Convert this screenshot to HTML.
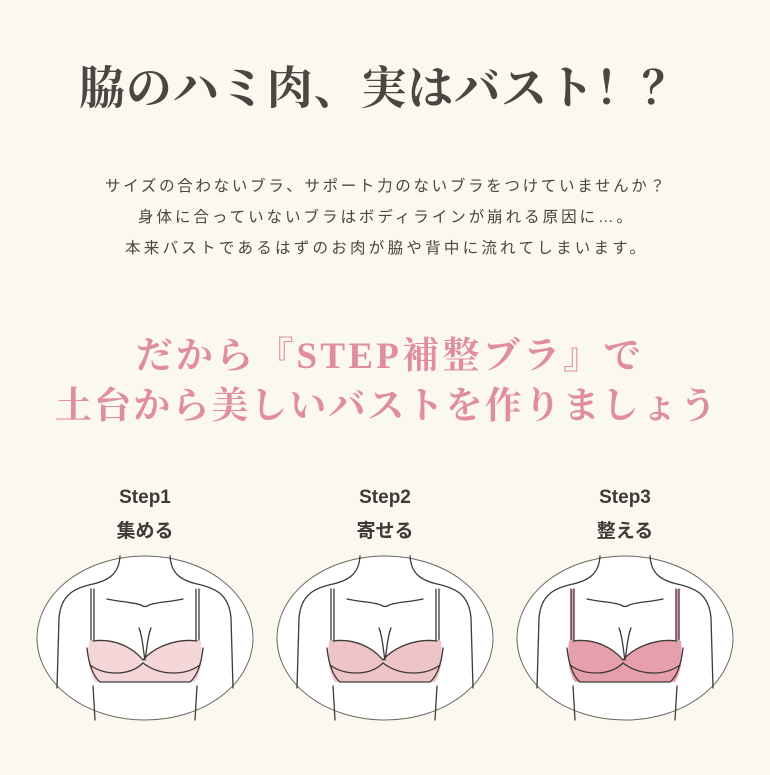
<!DOCTYPE html>
<html><head><meta charset="utf-8"><style>
body{margin:0;width:770px;height:770px;background:#fbf8f0;overflow:hidden}
</style></head><body>
<svg width="770" height="770" viewBox="0 0 770 770" xmlns="http://www.w3.org/2000/svg">
<rect width="770" height="770" fill="#fbf8f0"/>
<text x="385" y="104" text-anchor="middle" font-family="'Liberation Serif','Noto Serif CJK SC',serif" font-size="46" font-weight="bold" fill="#4a4642" letter-spacing="3" textLength="612">脇のハミ肉、実はバスト！？</text>
<g font-family="'Liberation Sans','Noto Sans CJK JP',sans-serif" font-size="15.5" fill="#4a4642" text-anchor="middle">
<text x="385" y="191" textLength="560">サイズの合わないブラ、サポート力のないブラをつけていませんか？</text>
<text x="385" y="222" textLength="494">身体に合っていないブラはボディラインが崩れる原因に…。</text>
<text x="385" y="253" textLength="520">本来バストであるはずのお肉が脇や背中に流れてしまいます。</text>
</g>
<g font-family="'Liberation Serif','Noto Serif CJK SC',serif" font-size="37" font-weight="bold" fill="#e08d9c" text-anchor="middle">
<text x="388" y="368" textLength="505">だから『STEP補整ブラ』で</text>
<text x="386" y="418" textLength="662">土台から美しいバストを作りましょう</text>
</g>
<g font-family="'Liberation Sans','Noto Sans CJK JP',sans-serif" font-size="19" font-weight="bold" fill="#3e3a37" text-anchor="middle">
<text x="145" y="503">Step1</text><text x="145" y="537">集める</text>
<text x="385" y="503">Step2</text><text x="385" y="537">寄せる</text>
<text x="625" y="503">Step3</text><text x="625" y="537">整える</text>
</g>
<defs>
<g id="body" fill="none" stroke="#3e3a37" stroke-width="1.3" stroke-linecap="round">
<path d="M-25,-82 C-26,-65 -35,-58 -52,-54 C-70,-50 -84,-44 -86,-20 L-88,50"/>
<path d="M25,-82 C26,-65 35,-58 52,-54 C70,-50 84,-44 86,-20 L88,50"/>
<path d="M-38,-39 C-25,-36 -12,-36 -4,-33"/><path d="M38,-39 C25,-36 12,-36 4,-33 M-4,-33 C-2,-31 2,-31 4,-33"/>
<path d="M-54,-49 L-54,2 M-51,-49 L-51,2"/><path d="M54,-49 L54,2 M51,-49 L51,2"/>
<path d="M-52,3 C-30,0 -12,10 -2,22 C8,10 30,0 52,3"/>
<path d="M-6,-10 C-2,0 -2,12 0,22 M6,-10 C2,0 2,12 0,22"/>
<path d="M-58,10 C-56,30 -50,40 -45,44 L45,44 C50,40 56,30 58,10"/>
<path d="M-55,27 C-40,38 -15,38 -2,25 C15,38 40,38 55,27"/>
<path d="M-52,48 L-50,82 M52,48 L50,82"/>
</g>
</defs>
<g transform="translate(145,638)">
<ellipse rx="108" ry="82" fill="#fff" stroke="#6a6560" stroke-width="1"/>
<path d="M-56,3 C-30,0 -12,10 -2,22 C8,10 30,0 56,3 C58,20 56,35 50,44 L-50,44 C-56,35 -58,20 -56,3Z" fill="#f4d5d8"/>
<use href="#body"/>
</g>
<g transform="translate(385,638)">
<ellipse rx="108" ry="82" fill="#fff" stroke="#6a6560" stroke-width="1"/>
<path d="M-56,3 C-30,0 -12,10 -2,22 C8,10 30,0 56,3 C58,20 56,35 50,44 L-50,44 C-56,35 -58,20 -56,3Z" fill="#efc4c8"/>
<use href="#body"/>
</g>
<g transform="translate(625,638)">
<ellipse rx="108" ry="82" fill="#fff" stroke="#6a6560" stroke-width="1"/>
<path d="M-56,3 C-30,0 -12,10 -2,22 C8,10 30,0 56,3 C58,20 56,35 50,44 L-50,44 C-56,35 -58,20 -56,3Z" fill="#e6a0ab"/>
<path d="M-54,-49 L-54,2 L-51,2 L-51,-49Z M54,-49 L54,2 L51,2 L51,-49Z" fill="#e6a0ab"/>
<use href="#body"/>
</g>
</svg>
</body></html>
